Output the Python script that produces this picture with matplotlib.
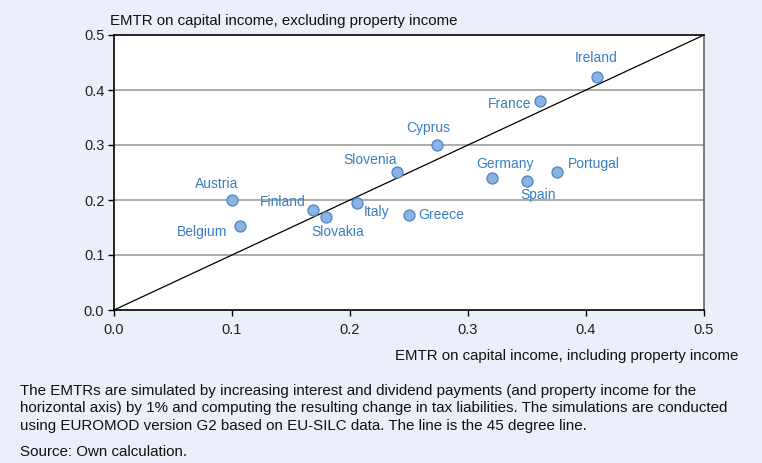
import matplotlib
matplotlib.use("Agg")
import matplotlib.pyplot as plt

plt.rcParams['font.family'] = ['Liberation Sans', 'DejaVu Sans']

countries = ["Ireland", "France", "Cyprus", "Slovenia", "Germany", "Spain", "Portugal",
             "Austria", "Finland", "Slovakia", "Italy", "Greece", "Belgium"]
incl_property = [0.409, 0.361, 0.274, 0.240, 0.320, 0.350, 0.375,
                 0.100, 0.169, 0.180, 0.206, 0.250, 0.107]
excl_property = [0.423, 0.380, 0.300, 0.251, 0.240, 0.234, 0.251,
                 0.200, 0.182, 0.170, 0.194, 0.172, 0.153]
x_ticks = [0.0, 0.1, 0.2, 0.3, 0.4, 0.5]
y_ticks = [0.0, 0.1, 0.2, 0.3, 0.4, 0.5]

# label offsets in pixels (dx, dy, ha)
label_pos = {
    "Ireland": (0, 19, "center"),
    "France": (-9, -3, "right"),
    "Cyprus": (-9, 17, "center"),
    "Slovenia": (-27, 12, "center"),
    "Germany": (13, 14, "center"),
    "Spain": (11, -14, "center"),
    "Portugal": (11, 8, "left"),
    "Austria": (-15, 16, "center"),
    "Finland": (-8, 8, "right"),
    "Slovakia": (11, -15, "center"),
    "Italy": (7, -9, "left"),
    "Greece": (9, 0, "left"),
    "Belgium": (-13, -6, "right"),
}

bg = "#EAEFF9"
fig = plt.figure(figsize=(7.62, 4.63), dpi=100, facecolor=bg)
ax = fig.add_axes([114/762, 1-310/463, 590/762, 275/463])
ax.set_facecolor("white")
ax.set_xlim(0, 0.5)
ax.set_ylim(0, 0.5)

for yv in y_ticks[1:-1]:
    ax.axhline(yv, color="#A6A6A6", lw=1.3, zorder=1)

ax.plot([0, 0.5], [0, 0.5], color="black", lw=0.9, zorder=2)

ax.scatter(incl_property, excl_property, s=62, facecolor="#8DB4E0", edgecolor="#4F8AC9",
           linewidth=1.0, zorder=3)

for c, xv, yv in zip(countries, incl_property, excl_property):
    dx, dy, ha = label_pos[c]
    ax.annotate(c, (xv, yv), xytext=(dx, dy), textcoords="offset pixels",
                ha=ha, va="center", color="#3A7DC2", fontsize=10, zorder=4)

ax.set_xticks(x_ticks)
ax.set_yticks(y_ticks)
ax.set_xticklabels([f"{v:.1f}" for v in x_ticks])
ax.set_yticklabels([f"{v:.1f}" for v in y_ticks])
ax.tick_params(axis="both", direction="out", length=4, width=1, labelsize=10.5,
               color="black", labelcolor="#222222")
ax.tick_params(axis="x", pad=5)
ax.tick_params(axis="y", pad=3)

for s in ["left", "bottom", "top"]:
    ax.spines[s].set_color("black")
    ax.spines[s].set_linewidth(1.2)
ax.spines["right"].set_color("#666666")
ax.spines["right"].set_linewidth(1.2)

fig.text(110/762, 1-21/463, "EMTR on capital income, excluding property income",
         ha="left", va="center", fontsize=10.8, color="#111111")
fig.text(738/762, 1-356/463, "EMTR on capital income, including property income",
         ha="right", va="center", fontsize=10.8, color="#111111")

note = ("The EMTRs are simulated by increasing interest and dividend payments (and property income for the\n"
        "horizontal axis) by 1% and computing the resulting change in tax liabilities. The simulations are conducted\n"
        "using EUROMOD version G2 based on EU-SILC data. The line is the 45 degree line.")
fig.text(20/762, 1-384/463, note, ha="left", va="top", fontsize=10.9, color="#111111",
         linespacing=1.3)
fig.text(20/762, 1-452/463, "Source: Own calculation.", ha="left", va="center",
         fontsize=10.9, color="#111111")

fig.savefig("out.png", dpi=100, facecolor=bg)
